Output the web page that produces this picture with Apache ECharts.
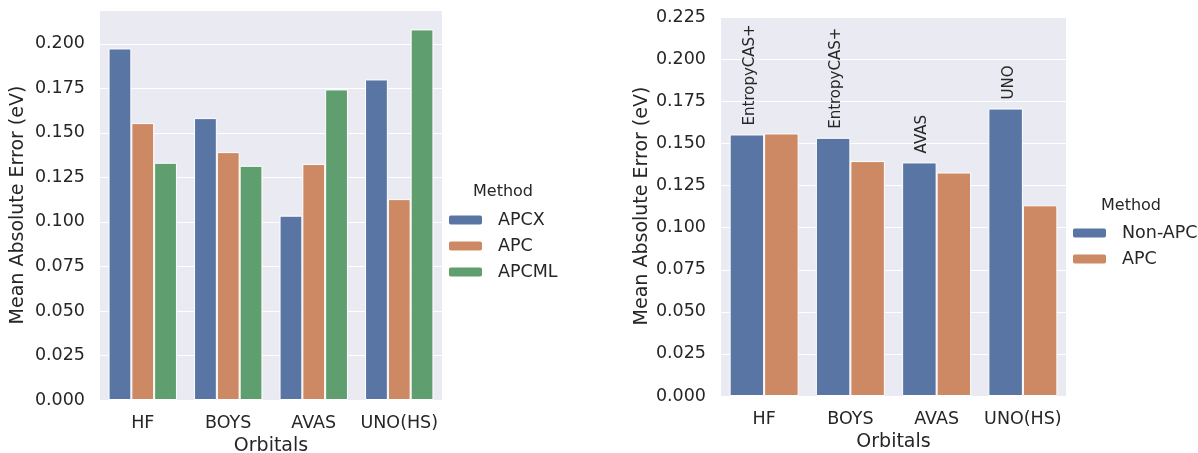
<!DOCTYPE html>
<html><head><meta charset="utf-8">
<script src="https://cdn.jsdelivr.net/npm/echarts@6/dist/echarts.min.js"></script>
<style>html,body{margin:0;padding:0;background:#fff}#c{width:1198px;height:453px}</style>
</head><body><div id="c"></div>
<script>
const categories = ['HF', 'BOYS', 'AVAS', 'UNO(HS)'];
const leftAPCX = [0.1974, 0.1583, 0.1035, 0.1800];
const leftAPC = [0.1555, 0.1392, 0.1325, 0.1128];
const leftAPCML = [0.1332, 0.1315, 0.1744, 0.2081];
const rightNonAPC = [0.1554, 0.1534, 0.1388, 0.1708];
const rightAPC = [0.1560, 0.1396, 0.1328, 0.1133];
const barLabels = ['EntropyCAS+', 'EntropyCAS+', 'AVAS', 'UNO'];

const FONT = 'DejaVu Sans';
const TXT = '#262626';
const colors = {APCX: '#5975a4', APC: '#cc8963', APCML: '#5f9e6e', NonAPC: '#5975a4'};

function fmt(v) {
  const k = v / 0.025;
  if (Math.abs(k - Math.round(k)) > 1e-6) return '';
  return v.toFixed(3);
}
function yAxis(idx, max, gap) {
  return {
    type: 'value', gridIndex: idx, min: 0, max: max, interval: 0.025,
    name: 'Mean Absolute Error (eV)', nameLocation: 'middle', nameGap: gap,
    nameTextStyle: {fontFamily: FONT, fontSize: 19, color: TXT},
    axisLine: {show: false}, axisTick: {show: false},
    axisLabel: {formatter: fmt, fontFamily: FONT, fontSize: 17.5, color: TXT, margin: 15, showMaxLabel: false},
    splitLine: {lineStyle: {color: '#ffffff', width: 1.2}}
  };
}
function xAxis(idx) {
  return {
    type: 'category', gridIndex: idx, data: categories,
    name: 'Orbitals', nameLocation: 'middle', nameGap: 34,
    nameTextStyle: {fontFamily: FONT, fontSize: 19, color: TXT},
    axisLine: {show: false}, axisTick: {show: false},
    axisLabel: {interval: 0, fontFamily: FONT, fontSize: 17.5, color: TXT, margin: 14},
    splitLine: {show: false}
  };
}
function bar(name, data, idx, color, extra) {
  return Object.assign({
    name: name, type: 'bar', xAxisIndex: idx, yAxisIndex: idx, data: data,
    barCategoryGap: '20%', barGap: '0%',
    itemStyle: {color: color, borderColor: '#ffffff', borderWidth: 1},
    emphasis: {disabled: true}
  }, extra || {});
}

const chart = echarts.init(document.getElementById('c'), null, {renderer: 'canvas'});
chart.setOption({
  animation: false,
  backgroundColor: '#ffffff',
  grid: [
    {left: 100, right: 756, top: 10, bottom: 53, show: true, backgroundColor: '#eaeaf2', borderWidth: 0, containLabel: false, outerBoundsMode: 'none'},
    {left: 721, right: 132, top: 16, bottom: 57, show: true, backgroundColor: '#eaeaf2', borderWidth: 0, containLabel: false, outerBoundsMode: 'none'}
  ],
  xAxis: [xAxis(0), xAxis(1)],
  yAxis: [yAxis(0, 0.219, 72), yAxis(1, 0.2258, 68)],
  legend: [
    {data: ['APCX', 'APC', 'APCML'], orient: 'vertical', left: 447, top: 211, padding: 0, itemWidth: 35, itemHeight: 11, itemGap: 8,
     textStyle: {fontFamily: FONT, fontSize: 17.5, color: TXT, padding: [0, 0, 0, 10]}, selectedMode: false},
    {data: ['Non-APC', 'APC'], orient: 'vertical', left: 1071, top: 224, padding: 0, itemWidth: 35, itemHeight: 11, itemGap: 8,
     textStyle: {fontFamily: FONT, fontSize: 17.5, color: TXT, padding: [0, 0, 0, 10]}, selectedMode: false}
  ],
  graphic: [
    {type: 'text', left: 473, top: 184, style: {text: 'Method', font: '16px "DejaVu Sans"', fill: TXT}},
    {type: 'text', left: 1101, top: 198, style: {text: 'Method', font: '16px "DejaVu Sans"', fill: TXT}}
  ],
  series: [
    bar('APCX', leftAPCX, 0, colors.APCX),
    bar('APC', leftAPC, 0, colors.APC),
    bar('APCML', leftAPCML, 0, colors.APCML),
    bar('Non-APC', rightNonAPC, 1, colors.NonAPC, {
      label: {show: true, position: 'top', rotate: 90, align: 'left', verticalAlign: 'middle', distance: 9, offset: [0, 3],
        formatter: p => barLabels[p.dataIndex], fontFamily: FONT, fontSize: 15, color: TXT}
    }),
    bar('APC', rightAPC, 1, colors.APC)
  ]
});
</script></body></html>
